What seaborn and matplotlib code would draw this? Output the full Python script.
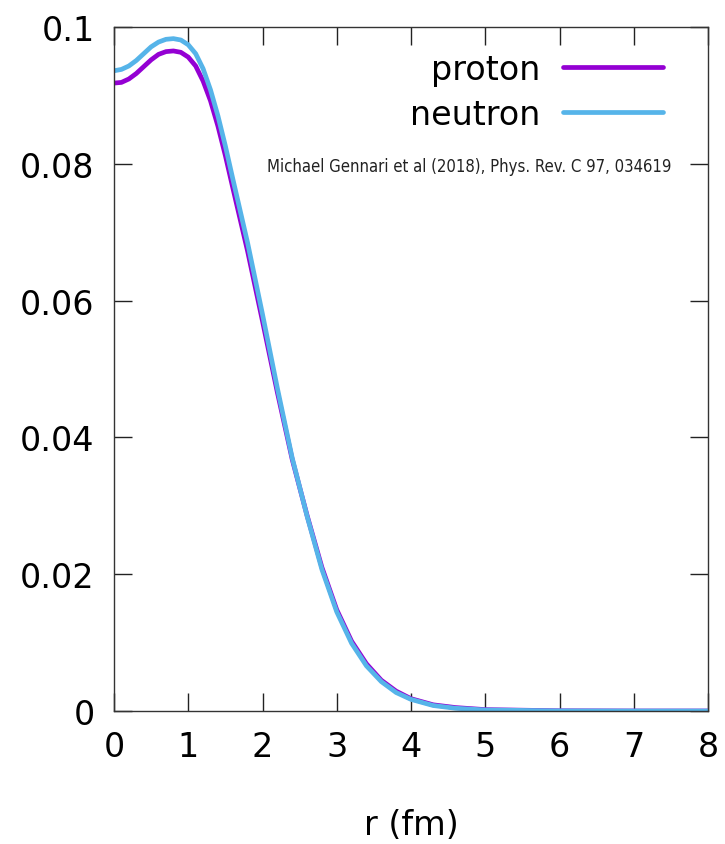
import numpy as np
import pandas as pd
import matplotlib
matplotlib.use("Agg")
import matplotlib.pyplot as plt
import seaborn as sns

# radius grid (fm) and density values
r_fm = [0.0, 0.1, 0.2, 0.3, 0.4, 0.5, 0.6, 0.7, 0.8, 0.9, 1.0, 1.1, 1.2, 1.3, 1.4,
        1.5, 1.6, 1.8, 2.0, 2.2, 2.4, 2.6, 2.8, 3.0, 3.2, 3.4, 3.6, 3.8, 4.0,
        4.3, 4.6, 5.0, 6.0, 7.0, 8.0]
proton = [0.0918, 0.0919, 0.0924, 0.0932, 0.0942, 0.0952, 0.0960, 0.0964, 0.0965,
          0.0963, 0.0956, 0.0943, 0.0921, 0.0892, 0.0855, 0.0812, 0.0765, 0.0672,
          0.0570, 0.0466, 0.0368, 0.0286, 0.0210, 0.0148, 0.0102, 0.0069, 0.0045,
          0.0029, 0.0018, 0.0009, 0.0005, 0.0002, 0.00003, 0.0, 0.0]
neutron = [0.0936, 0.0938, 0.0943, 0.0951, 0.0961, 0.0971, 0.0978, 0.0982, 0.0983,
           0.0981, 0.0974, 0.0961, 0.0939, 0.0908, 0.0870, 0.0826, 0.0778, 0.0684,
           0.0580, 0.0472, 0.0370, 0.0285, 0.0207, 0.0145, 0.0099, 0.0066, 0.0043,
           0.0027, 0.0017, 0.0008, 0.0004, 0.00015, 0.00002, 0.0, 0.0]
x_ticks = [0, 1, 2, 3, 4, 5, 6, 7, 8]
y_ticks = [0, 0.02, 0.04, 0.06, 0.08, 0.1]
y_tick_labels = ["0", "0.02", "0.04", "0.06", "0.08", "0.1"]
source_note = "Michael Gennari et al (2018), Phys. Rev. C 97, 034619"

df = pd.DataFrame({
    "r": r_fm * 2,
    "density": proton + neutron,
    "species": ["proton"] * len(r_fm) + ["neutron"] * len(r_fm),
})

sns.set_theme(style="ticks")
plt.rcParams["font.family"] = ["DejaVu Sans"]

fig = plt.figure(figsize=(7.25, 8.45), dpi=100)
ax = fig.add_axes([114 / 725, 133 / 845, 594 / 725, 684 / 845])

palette = {"proton": "#9400D3", "neutron": "#56B4E9"}
sns.lineplot(data=df, x="r", y="density", hue="species", palette=palette,
             linewidth=3.4, ax=ax, estimator=None, sort=False)
for line in ax.get_lines():
    line.set_solid_joinstyle("round")
    line.set_solid_capstyle("round")

ax.set_xlim(0, 8)
ax.set_ylim(0, 0.1)
ax.set_xticks(x_ticks)
ax.set_xticklabels([str(t) for t in x_ticks])
ax.set_yticks(y_ticks)
ax.set_yticklabels(y_tick_labels)
ax.tick_params(direction="in", length=13, width=1, color="#222222",
               top=True, right=True, labelsize=24, labelcolor="black", pad=14)
for sp in ax.spines.values():
    sp.set_color("#333333")
    sp.set_linewidth(1)

ax.set_xlabel("r (fm)", fontsize=24, color="black", labelpad=32)
ax.set_ylabel("")

handles, labels = ax.get_legend_handles_labels()
leg = ax.legend(handles, labels, loc="upper right", bbox_to_anchor=(0.925, 0.962),
                frameon=False, markerfirst=False, fontsize=24, handlelength=3.0,
                handletextpad=0.7, labelspacing=0.36, borderpad=0, borderaxespad=0)
for line in leg.get_lines():
    line.set_linewidth(3.4)
for t in leg.get_texts():
    t.set_color("black")

ax.text(0.938, 0.797, source_note, transform=ax.transAxes, ha="right", va="center",
        fontsize=12, color="#222222", fontstretch="condensed")

fig.savefig("out.png", dpi=100)
